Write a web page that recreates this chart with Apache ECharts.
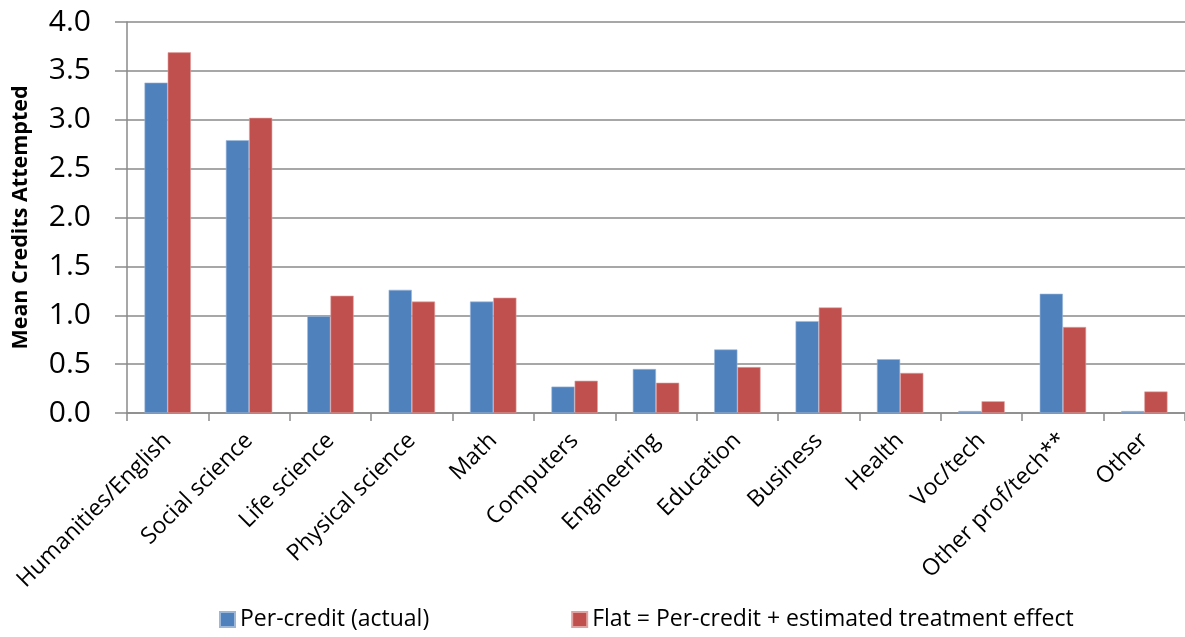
<!DOCTYPE html>
<html>
<head>
<meta charset="utf-8">
<script src="https://cdn.jsdelivr.net/npm/echarts@6/dist/echarts.min.js"></script>
<style>
  html, body { margin: 0; padding: 0; background: #fff; }
  #chart { width: 1185px; height: 637px; }
</style>
</head>
<body>
<div id="chart"></div>
<script>
// Subject areas on the horizontal axis
const categories = [
  'Humanities/English', 'Social science', 'Life science', 'Physical science',
  'Math', 'Computers', 'Engineering', 'Education', 'Business', 'Health',
  'Voc/tech', 'Other prof/tech**', 'Other'
];

// Mean credits attempted under each pricing scheme
const perCredit = [3.38, 2.79, 0.99, 1.26, 1.14, 0.27, 0.45, 0.65, 0.94, 0.55, 0.02, 1.22, 0.02];
const flat      = [3.69, 3.02, 1.20, 1.14, 1.18, 0.33, 0.31, 0.47, 1.08, 0.41, 0.12, 0.88, 0.22];

const seriesNames = ['Per-credit (actual)', 'Flat = Per-credit + estimated treatment effect'];
const yTicks = { min: 0, max: 4, interval: 0.5 };

const FONT = '"Open Sans", sans-serif';
const GRID_GRAY = '#8a8a8a';

const chart = echarts.init(document.getElementById('chart'));
chart.setOption({
  animation: false,
  backgroundColor: '#ffffff',
  textStyle: { fontFamily: FONT, color: '#000' },
  grid: { left: 127, top: 22, bottom: 224, width: 1062, containLabel: false },
  legend: {
    left: 219,
    top: 608,
    padding: 0,
    itemWidth: 15,
    itemHeight: 15,
    itemGap: 142,
    icon: 'rect',
    textStyle: { fontFamily: FONT, fontSize: 23, color: '#000' },
    data: seriesNames
  },
  xAxis: {
    type: 'category',
    data: categories,
    boundaryGap: true,
    axisLine: { lineStyle: { color: GRID_GRAY, width: 1.5 } },
    axisTick: { show: true, length: 8, alignWithLabel: false, lineStyle: { color: GRID_GRAY, width: 1.5 } },
    axisLabel: {
      interval: 0,
      rotate: 45,
      margin: 24,
      fontFamily: FONT,
      fontSize: 23,
      color: '#000'
    }
  },
  yAxis: {
    type: 'value',
    min: yTicks.min,
    max: yTicks.max,
    interval: yTicks.interval,
    name: 'Mean Credits Attempted',
    nameLocation: 'middle',
    nameGap: 95,
    nameRotate: 90,
    nameTextStyle: { fontFamily: FONT, fontSize: 21.5, fontWeight: 'bold', color: '#000' },
    axisLine: { show: true, lineStyle: { color: GRID_GRAY, width: 1.5 } },
    axisTick: { show: true, length: 12, lineStyle: { color: GRID_GRAY, width: 1.5 } },
    splitLine: { show: true, lineStyle: { color: GRID_GRAY, width: 1.5 } },
    axisLabel: {
      margin: 36,
      fontFamily: FONT,
      fontSize: 30,
      color: '#000',
      formatter: v => v.toFixed(1)
    }
  },
  series: [
    {
      name: seriesNames[0],
      type: 'bar',
      data: perCredit,
      barGap: '0%',
      barCategoryGap: '43%',
      itemStyle: { color: '#4F81BD', borderColor: '#9db7d8', borderWidth: 0.6 }
    },
    {
      name: seriesNames[1],
      type: 'bar',
      data: flat,
      itemStyle: { color: '#C0504D', borderColor: '#e0a3a1', borderWidth: 0.6 }
    }
  ]
});
</script>
</body>
</html>
